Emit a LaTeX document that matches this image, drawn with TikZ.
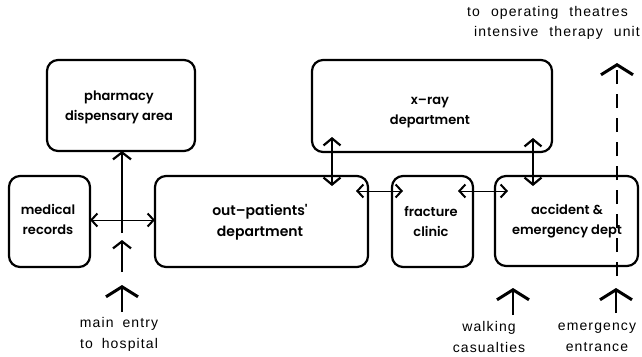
\documentclass[tikz,border=0pt]{standalone}
\usepackage{fontspec}
\setmainfont{Liberation Sans}
\newfontfamily\boxfont{Poppins}[UprightFont=* SemiBold]
\newfontfamily\labfont{Liberation Sans}[LetterSpace=8]
\usetikzlibrary{arrows.meta,calc}
\tikzset{
  room/.style={draw, line width=2.2pt, rounded corners=11pt, inner sep=0pt, outer sep=0pt},
  roomtext/.style={font=\boxfont\fontsize{13}{20}\selectfont, align=center},
  lab/.style={font=\labfont\fontsize{14}{21}\selectfont, align=center, inner sep=0pt},
  bigup/.style={line width=1.3pt, -{Straight Barb[length=10pt,width=32pt,line width=3pt]}},
  midup/.style={line width=1.1pt, -{Straight Barb[length=7pt,width=18pt,line width=2.2pt]}},
  smallboth/.style={line width=1.1pt, {Straight Barb[length=7pt,width=17pt,line width=2.2pt]}-{Straight Barb[length=7pt,width=17pt,line width=2.2pt]}},
  sideboth/.style={line width=1pt, {Straight Barb[length=6pt,width=13pt,line width=2pt]}-{Straight Barb[length=6pt,width=13pt,line width=2pt]}},
}
\begin{document}
\begin{tikzpicture}[x=1pt,y=-1pt]
\useasboundingbox (0,0) rectangle (642,356);
% rooms
\node[room, minimum width=148pt, minimum height=91pt] (pharm) at (121,105.5) {};
\node[roomtext] at (119,107) {pharmacy\\dispensary area};
\node[room, minimum width=240pt, minimum height=92pt] (xray) at (432,106) {};
\node[roomtext] at (430,113) {x–ray\\department};
\node[room, minimum width=81pt, minimum height=91pt] (med) at (49.5,221.5) {};
\node[roomtext] at (48,219) {medical\\records};
\node[room, minimum width=213pt, minimum height=91pt] (opd) at (261.5,221.5) {};
\node[roomtext, font=\boxfont\fontsize{14}{21}\selectfont] at (260,222) {out–patients'\\department};
\node[room, minimum width=81pt, minimum height=91pt] (frac) at (432.5,221.5) {};
\node[roomtext] at (431,221) {fracture\\clinic};
\node[room, minimum width=143pt, minimum height=90pt] (ae) at (566.5,221) {};
\node[roomtext] at (567,221) {accident \&\\emergency dept};
% labels
\node[lab] (mainlab) at (119,334) {main\hspace{9pt}entry\\to\hspace{9pt}hospital};
\node[lab] (walklab) at (489,337) {walking\\casualties};
\node[lab] (emlab) at (597,337) {emergency\\entrance};
\node[lab, anchor=east] (toplab1) at (628,13) {to\hspace{11pt}operating\hspace{11pt}theatres};
\node[lab, anchor=east] (toplab2) at (640,33) {intensive\hspace{11pt}therapy\hspace{11pt}unit};
% free ends
\coordinate (mainbot) at (122,312);
\coordinate (mainhead) at (122,285);
\coordinate (midbot) at (122,272);
\coordinate (midhead) at (122,240);
\coordinate (phbot) at (122,233);
\coordinate (walkbot) at (513,315);
\coordinate (walkhead) at (513,288);
\coordinate (embot) at (616,313);
\coordinate (emhead) at (616,288);
\coordinate (dashbot) at (617,276);
\coordinate (dashtop) at (617,63);
\coordinate (xrL) at ($(xray.south west)+(20,-15)$);
\coordinate (opT) at ($(xrL |- opd.north)+(0,10)$);
\coordinate (xrR) at ($(xray.south east)+(-19,-14)$);
\coordinate (aeT) at ($(xrR |- ae.north)+(0,10)$);
% connectors
\draw[bigup] (mainbot) -- (mainhead);
\draw[midup] (midbot) -- (midhead);
\draw[midup] (phbot) -- (pharm.south -| phbot);
\draw[sideboth] (med.east |- 0,220) -- (opd.west |- 0,220);
\draw[sideboth] ($(opd.north east)+(-12,15)$) -- ($(frac.north west)+(11,15)$);
\draw[sideboth] ($(frac.north east)+(-15,15)$) -- ($(ae.north west)+(13,15)$);
\draw[smallboth] (xrL) -- (opT);
\draw[smallboth] (xrR) -- (aeT);
\draw[bigup] (walkbot) -- (walkhead);
\draw[bigup] (embot) -- (emhead);
\draw[line width=1.3pt, dash pattern=on 14pt off 10pt, -{Straight Barb[length=10pt,width=32pt,line width=3pt]}] (dashbot) -- (dashtop);
\end{tikzpicture}
\end{document}
